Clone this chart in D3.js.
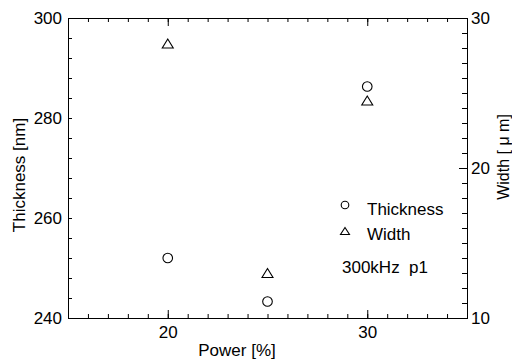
<!DOCTYPE html>
<html>
<head>
<meta charset="utf-8">
<script src="https://cdn.jsdelivr.net/npm/d3@7"></script>
<style>
  body { margin: 0; background: #fff; }
  svg { display: block; }
  text { font-family: "Liberation Sans", Arial, sans-serif; fill: #000; }
  .axis path { display: none; }
  .axis line { stroke: #000; stroke-width: 1; }
  .axis text { font-size: 17px; }
</style>
</head>
<body>
<div id="chart"></div>
<script>
// data
const power = [20, 25, 30];
const thickness = [252, 243.3, 286.3];   // nm, left axis
const width = [28.3, 13.0, 24.5];        // um, right axis

const xMajor = [20, 30];
const yLeftMajor = [240, 260, 280, 300];
const yRightMajor = [10, 20, 30];

const W = 512, H = 361;
const margin = { top: 18, right: 45, bottom: 43, left: 68 };
const plotW = W - margin.left - margin.right;
const plotH = H - margin.top - margin.bottom;

const svg = d3.select('#chart').append('svg')
  .attr('width', W)
  .attr('height', H);

// scales
const x = d3.scaleLinear().domain([15, 35]).range([margin.left, margin.left + plotW]);
const yL = d3.scaleLinear().domain([240, 300]).range([margin.top + plotH, margin.top]);
const yR = d3.scaleLinear().domain([10, 30]).range([margin.top + plotH, margin.top]);

const xMinor = d3.range(15, 35.01, 1);
const yLeftMinor = d3.range(240, 300.01, 4);
const yRightMinor = d3.range(10, 30.01, 1);

const minorLen = 4, majorLen = 8;

// bottom
svg.append('g').attr('class', 'axis')
  .attr('transform', `translate(0,${margin.top + plotH})`)
  .call(d3.axisBottom(x).tickValues(xMinor).tickSize(-minorLen).tickSizeOuter(0).tickFormat(''));
svg.append('g').attr('class', 'axis')
  .attr('transform', `translate(0,${margin.top + plotH})`)
  .call(d3.axisBottom(x).tickValues(xMajor).tickSize(-majorLen).tickSizeOuter(0).tickPadding(8).tickFormat(d3.format('d')));
// top
svg.append('g').attr('class', 'axis')
  .attr('transform', `translate(0,${margin.top})`)
  .call(d3.axisTop(x).tickValues(xMinor).tickSize(-minorLen).tickSizeOuter(0).tickFormat(''));
svg.append('g').attr('class', 'axis')
  .attr('transform', `translate(0,${margin.top})`)
  .call(d3.axisTop(x).tickValues(xMajor).tickSize(-majorLen).tickSizeOuter(0).tickFormat(''));
// left
svg.append('g').attr('class', 'axis')
  .attr('transform', `translate(${margin.left},0)`)
  .call(d3.axisLeft(yL).tickValues(yLeftMinor).tickSize(-minorLen).tickSizeOuter(0).tickFormat(''));
svg.append('g').attr('class', 'axis')
  .attr('transform', `translate(${margin.left},0)`)
  .call(d3.axisLeft(yL).tickValues(yLeftMajor).tickSize(-minorLen).tickSizeOuter(0).tickPadding(6).tickFormat(d3.format('d')));
// right
svg.append('g').attr('class', 'axis')
  .attr('transform', `translate(${margin.left + plotW},0)`)
  .call(d3.axisRight(yR).tickValues(yRightMinor).tickSize(-minorLen - 1).tickSizeOuter(0).tickFormat(''));
svg.append('g').attr('class', 'axis')
  .attr('transform', `translate(${margin.left + plotW},0)`)
  .call(d3.axisRight(yR).tickValues(yRightMajor).tickSize(-majorLen).tickSizeOuter(0).tickPadding(4).tickFormat(d3.format('d')));

// frame
svg.append('rect')
  .attr('x', margin.left + 0.5).attr('y', margin.top + 0.5)
  .attr('width', plotW).attr('height', plotH)
  .attr('fill', 'none').attr('stroke', '#000').attr('stroke-width', 1);

// axis titles
svg.append('text')
  .attr('x', 237).attr('y', 356)
  .attr('text-anchor', 'middle')
  .style('font-size', '17px')
  .text('Power [%]');
svg.append('text')
  .attr('transform', 'translate(25,175) rotate(-90)')
  .attr('text-anchor', 'middle')
  .style('font-size', '17px')
  .text('Thickness [nm]');
svg.append('text')
  .attr('transform', 'translate(509,157) rotate(-90)')
  .attr('text-anchor', 'middle')
  .style('font-size', '16px')
  .text('Width [ \u03bc m]');

function tri(cx, cy, hw, hh) {
  return `M${cx},${cy - hh}L${cx + hw},${cy + hh}L${cx - hw},${cy + hh}Z`;
}

// thickness circles
svg.append('g').selectAll('circle')
  .data(power.map((p, i) => [p, thickness[i]]))
  .join('circle')
  .attr('cx', d => x(d[0]))
  .attr('cy', d => yL(d[1]))
  .attr('r', 4.8)
  .attr('fill', 'none')
  .attr('stroke', '#000')
  .attr('stroke-width', 1.1);

// width triangles
svg.append('g').selectAll('path')
  .data(power.map((p, i) => [p, width[i]]))
  .join('path')
  .attr('d', d => tri(x(d[0]), yR(d[1]), 5.5, 4.5))
  .attr('fill', 'none')
  .attr('stroke', '#000')
  .attr('stroke-width', 1.1);

// legend
const lg = svg.append('g');
lg.append('circle').attr('cx', 345).attr('cy', 205).attr('r', 3.8)
  .attr('fill', 'none').attr('stroke', '#000').attr('stroke-width', 1.1);
lg.append('text').attr('x', 367).attr('y', 215).style('font-size', '17px').text('Thickness');
lg.append('path').attr('d', tri(345, 231, 4.5, 3.5))
  .attr('fill', 'none').attr('stroke', '#000').attr('stroke-width', 1.1);
lg.append('text').attr('x', 367).attr('y', 240).style('font-size', '17px').text('Width');
lg.append('text').attr('x', 342).attr('y', 273).style('font-size', '17px').text('300kHz  p1')
  .attr('xml:space', 'preserve').style('white-space', 'pre');
</script>
</body>
</html>
